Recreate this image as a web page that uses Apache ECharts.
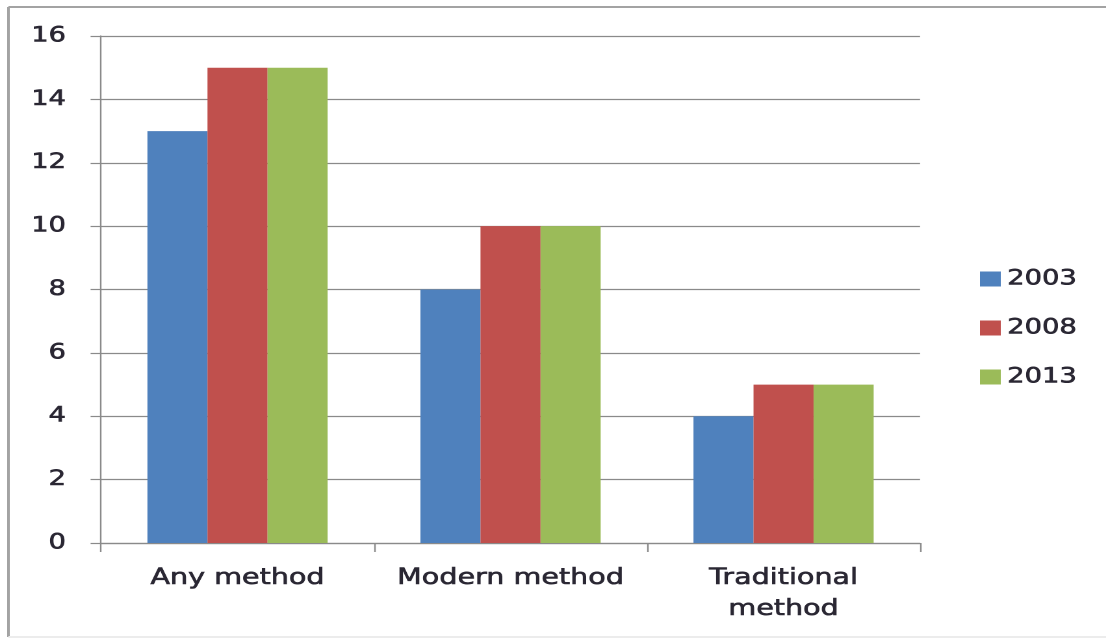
<!DOCTYPE html>
<html>
<head>
<meta charset="utf-8">
<script src="https://cdn.jsdelivr.net/npm/echarts@6/dist/echarts.min.js"></script>
<style>
  html, body { margin: 0; padding: 0; background: #ffffff; overflow: hidden; }
  /* the chart is laid out on a narrower canvas and widened to the page width */
  #chart { width: 851px; height: 640px; transform: scaleX(1.2997); transform-origin: 0 0; }
</style>
</head>
<body>
<div id="chart"></div>
<script>
const categories = ['Any method', 'Modern method', 'Traditional\nmethod'];
const seriesNames = ['2003', '2008', '2013'];
const values2003 = [13, 8, 4];
const values2008 = [15, 10, 5];
const values2013 = [15, 10, 5];
const yMin = 0;
const yMax = 16;
const yStep = 2;

const colors = ['#4F81BD', '#C0504D', '#9BBB59'];
const textColor = '#2a2733';
const lineColor = '#8a8a8a';
const font = 'DejaVu Sans, Verdana, sans-serif';

// slightly heavier glyphs: outline each label in its own colour
const heavy = { textBorderColor: textColor, textBorderWidth: 0.6 };

const chart = echarts.init(document.getElementById('chart'), null, { devicePixelRatio: 2 });

const seriesValues = [values2003, values2008, values2013];

chart.setOption({
  animation: false,
  backgroundColor: '#ffffff',
  graphic: [
    { type: 'line', shape: { x1: 6.5, y1: 7, x2: 860, y2: 7 }, style: { stroke: '#a3a3a3', lineWidth: 2 }, silent: true },
    { type: 'line', shape: { x1: 6.5, y1: 7, x2: 6.5, y2: 637 }, style: { stroke: '#a3a3a3', lineWidth: 2 }, silent: true },
    { type: 'line', shape: { x1: 6.5, y1: 637, x2: 860, y2: 637 }, style: { stroke: '#ececec', lineWidth: 2 }, silent: true }
  ],
  grid: { left: 77.7, right: 143.1, top: 36, bottom: 97 },
  legend: {
    orient: 'vertical',
    left: 754,
    top: 267,
    padding: 0,
    itemWidth: 16,
    itemHeight: 15,
    itemGap: 25,
    icon: 'rect',
    data: seriesNames,
    textStyle: Object.assign({ fontFamily: font, fontSize: 21, color: textColor, lineHeight: 24 }, heavy)
  },
  xAxis: {
    type: 'category',
    data: categories,
    boundaryGap: true,
    axisLine: { show: true, lineStyle: { color: lineColor, width: 1.2 } },
    axisTick: { show: true, length: 9, alignWithLabel: false, lineStyle: { color: lineColor, width: 1.2 } },
    axisLabel: Object.assign({ fontFamily: font, fontSize: 22, color: textColor, margin: 20, lineHeight: 31, interval: 0 }, heavy),
    splitLine: { show: false }
  },
  yAxis: {
    type: 'value',
    min: yMin,
    max: yMax,
    interval: yStep,
    axisLine: { show: true, lineStyle: { color: lineColor, width: 1.2 } },
    axisTick: { show: true, length: 8, lineStyle: { color: lineColor, width: 1.2 } },
    axisLabel: Object.assign({ fontFamily: font, fontSize: 21, color: textColor, margin: 27 }, heavy),
    splitLine: { show: true, lineStyle: { color: lineColor, width: 1.2 } }
  },
  series: seriesNames.map((name, i) => ({
    name: name,
    type: 'bar',
    data: seriesValues[i],
    barGap: '0%',
    barCategoryGap: '34%',
    itemStyle: { color: colors[i] }
  }))
});
</script>
</body>
</html>
